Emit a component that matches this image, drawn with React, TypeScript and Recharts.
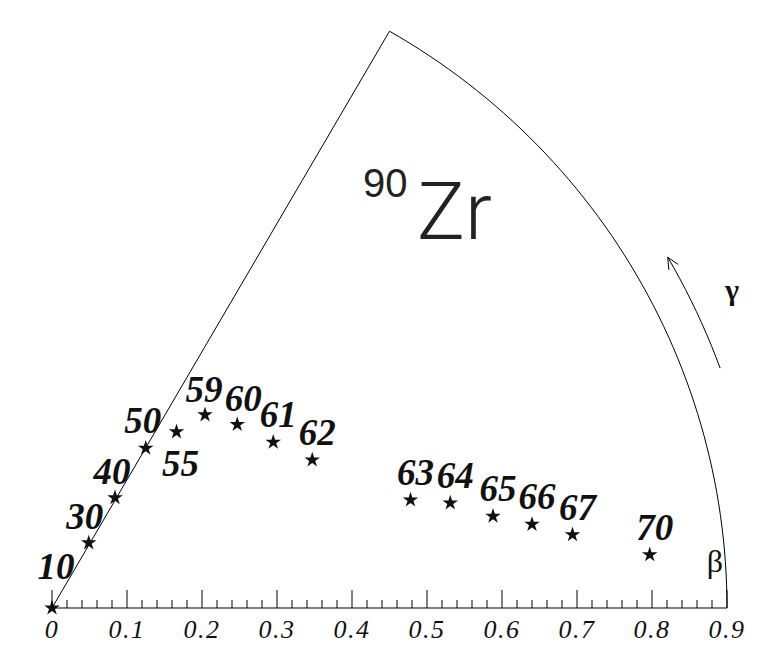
import { ScatterChart, Scatter, XAxis, YAxis, ReferenceLine, Symbols } from "recharts";

// angular momentum labels of the calculated minima
const spins = ["10", "30", "40", "50", "55", "59", "60", "61", "62", "63", "64", "65", "66", "67", "70"];
// beta*cos(gamma)
const betaX = [0, 0.049, 0.084, 0.125, 0.166, 0.204, 0.247, 0.295, 0.347, 0.478, 0.531, 0.588, 0.64, 0.694, 0.797];
// beta*sin(gamma)
const betaY = [0, 0.088, 0.149, 0.216, 0.238, 0.261, 0.248, 0.224, 0.2, 0.146, 0.142, 0.124, 0.113, 0.099, 0.072];

const majorTicks = [0, 0.1, 0.2, 0.3, 0.4, 0.5, 0.6, 0.7, 0.8, 0.9];
const tickLabels = ["0", "0.1", "0.2", "0.3", "0.4", "0.5", "0.6", "0.7", "0.8", "0.9"];

const BETA_MAX = 0.9;
const ARROW_R = 0.948;

const points = spins.map((s, i) => ({ x: betaX[i], y: betaY[i], spin: s }));

// minor ticks every 0.02
const allTicks = Array.from({ length: 46 }, (_, i) => Math.round(i * 2) / 100);

// outer boundary of the sector (beta = 0.9, gamma 0..60)
const rad = (d: number) => (d * Math.PI) / 180;
const arc = Array.from({ length: 61 }, (_, d) => ({
  x: BETA_MAX * Math.cos(rad(d)),
  y: BETA_MAX * Math.sin(rad(d)),
}));
const gammaArrow = Array.from({ length: 11 }, (_, i) => ({
  x: ARROW_R * Math.cos(rad(20 + i)),
  y: ARROW_R * Math.sin(rad(20 + i)),
}));
const tip = gammaArrow[gammaArrow.length - 1];
const arrowHead = [
  { x: tip.x + 0.017 * Math.cos(rad(-35)), y: tip.y + 0.017 * Math.sin(rad(-35)) },
  tip,
  { x: tip.x + 0.017 * Math.cos(rad(-85)), y: tip.y + 0.017 * Math.sin(rad(-85)) },
];

const labelOffset: Record<string, [number, number]> = {
  "10": [4, -42],
  "30": [-4, -27],
  "40": [-3, -27],
  "50": [-3, -28],
  "55": [4, 31],
  "59": [-1, -26],
  "60": [6, -26],
};

const serif = "'Liberation Serif', 'Times New Roman', serif";

const StarShape = (props: any) => {
  const { cx, cy, payload } = props;
  const off = labelOffset[payload.spin] ?? [5, -28];
  return (
    <g>
      <Symbols cx={cx} cy={cy} type="star" size={75} fill="#111" />
      <text
        x={cx + off[0]}
        y={cy + off[1] + 13}
        textAnchor="middle"
        fontFamily={serif}
        fontStyle="italic"
        fontWeight="bold"
        fontSize={37}
        fill="#111"
      >
        {payload.spin}
      </text>
    </g>
  );
};

const AxisTick = (props: any) => {
  const { x, y, payload, index } = props;
  const v = Number(payload.value);
  const idx = Math.round(v * 10);
  const major = index % 5 === 0 || majorTicks.some((m) => Math.abs(m - v) < 1e-6);
  return (
    <g>
      <line x1={x} y1={y} x2={x} y2={y - (major ? 18 : 8)} stroke="#000" strokeWidth={1} />
      {major && (
        <text
          x={x}
          y={y + 30}
          textAnchor="middle"
          fontFamily={serif}
          fontStyle="italic"
          fontSize={26}
          letterSpacing={1.5}
          fill="#111"
        >
          {tickLabels[idx]}
        </text>
      )}
    </g>
  );
};

const Empty = () => <g />;

const App = () => {
  return (
    <div style={{ width: 767, height: 650, position: "relative" }}>
      <ScatterChart width={767} height={650} margin={{ top: 8, right: 48, bottom: 10, left: 44 }}>
        <XAxis
          type="number"
          dataKey="x"
          domain={[0, BETA_MAX]}
          ticks={allTicks}
          interval={0}
          height={40}
          tickSize={0}
          tickMargin={0}
          tickLine={false}
          axisLine={{ stroke: "#000", strokeWidth: 1 }}
          tick={<AxisTick />}
        />
        <YAxis type="number" dataKey="y" domain={[0, 0.8]} hide />
        <ReferenceLine
          segment={[
            { x: 0, y: 0 },
            { x: arc[60].x, y: arc[60].y },
          ]}
          stroke="#000"
          strokeWidth={1}
        />
        <Scatter data={arc} line={{ stroke: "#000", strokeWidth: 1 }} shape={<Empty />} isAnimationActive={false} />
        <Scatter data={gammaArrow} line={{ stroke: "#000", strokeWidth: 1 }} shape={<Empty />} isAnimationActive={false} />
        <Scatter data={arrowHead} line={{ stroke: "#000", strokeWidth: 1 }} shape={<Empty />} isAnimationActive={false} />
        <Scatter data={points} fill="#111" shape={<StarShape />} isAnimationActive={false} />
      </ScatterChart>
      <svg width={767} height={650} style={{ position: "absolute", left: 0, top: 0, pointerEvents: "none" }}>
        <text x={355} y={189} fontFamily="'Liberation Sans', Arial, sans-serif" fontSize={40} fill="#222">
          90
        </text>
        <text x={409} y={231} fontFamily="Roboto, 'Liberation Sans', Arial, sans-serif" fontWeight={300} fontSize={80} fill="#222">
          Zr
        </text>
        <text x={724} y={292} textAnchor="middle" fontFamily={serif} fontWeight="bold" fontSize={30} fill="#111">
          γ
        </text>
        <text x={707} y={564} textAnchor="middle" fontFamily={serif} fontSize={32} fill="#111">
          β
        </text>
      </svg>
    </div>
  );
};

export default App;
